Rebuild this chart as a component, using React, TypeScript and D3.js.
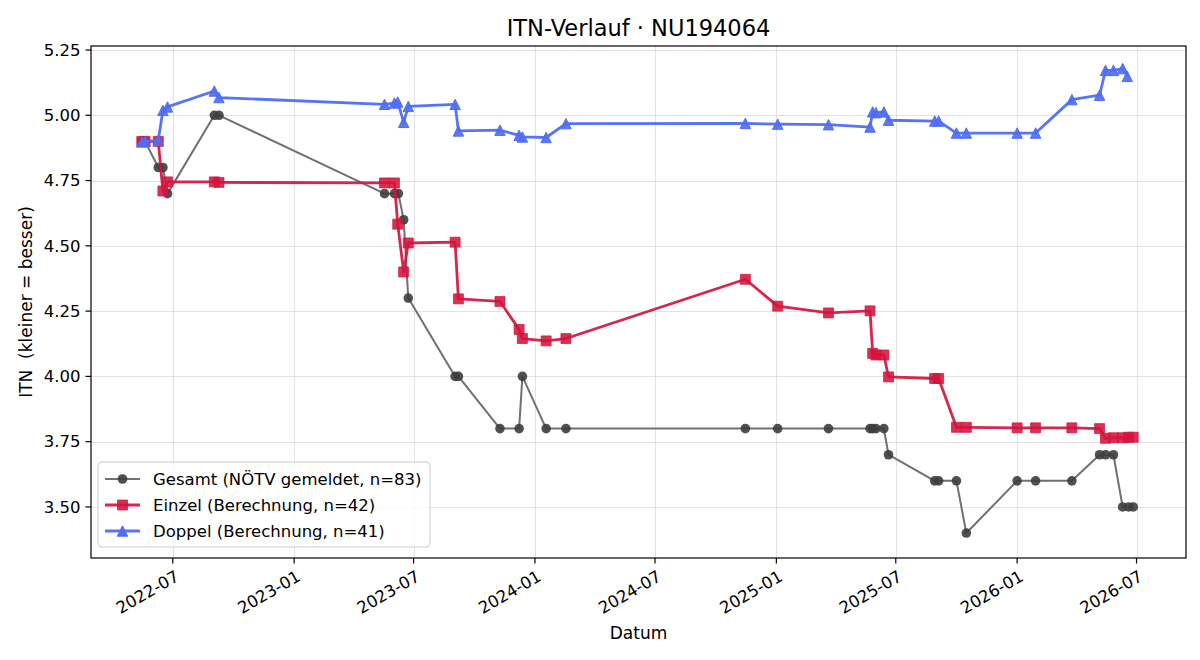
import React from "react";
import * as d3 from "d3";

// ITN history for player NU194064: reported overall value plus computed singles/doubles values
const gesamtDates = [
  "2022-05-15", "2022-05-20", "2022-06-09", "2022-06-16", "2022-06-23", "2022-09-02", "2022-09-09",
  "2023-05-18", "2023-06-02", "2023-06-08", "2023-06-16", "2023-06-23", "2023-09-02", "2023-09-07",
  "2023-11-09", "2023-12-08", "2023-12-13", "2024-01-18", "2024-02-17", "2024-11-15", "2025-01-03",
  "2025-03-21", "2025-05-23", "2025-05-27", "2025-06-01", "2025-06-13", "2025-06-20", "2025-08-29",
  "2025-09-04", "2025-10-01", "2025-10-16", "2026-01-01", "2026-01-29", "2026-03-25", "2026-05-06",
  "2026-05-15", "2026-05-27", "2026-06-10", "2026-06-19", "2026-06-26",
];
const gesamtValues = [
  4.9, 4.9, 4.8, 4.8, 4.7, 5.0, 5.0,
  4.7, 4.7, 4.7, 4.6, 4.3, 4.0, 4.0,
  3.8, 3.8, 4.0, 3.8, 3.8, 3.8, 3.8,
  3.8, 3.8, 3.8, 3.8, 3.8, 3.7, 3.6,
  3.6, 3.6, 3.4, 3.6, 3.6, 3.6, 3.7,
  3.7, 3.7, 3.5, 3.5, 3.5,
];

const einzelDates = [
  "2022-05-15", "2022-05-20", "2022-06-09", "2022-06-16", "2022-06-23", "2022-09-02", "2022-09-09",
  "2023-05-18", "2023-06-02", "2023-06-07", "2023-06-16", "2023-06-23", "2023-09-02", "2023-09-07",
  "2023-11-09", "2023-12-08", "2023-12-13", "2024-01-18", "2024-02-17", "2024-11-15", "2025-01-03",
  "2025-03-21", "2025-05-23", "2025-05-27", "2025-06-01", "2025-06-13", "2025-06-20", "2025-08-29",
  "2025-09-04", "2025-10-01", "2025-10-16", "2026-01-01", "2026-01-29", "2026-03-25", "2026-05-06",
  "2026-05-15", "2026-05-27", "2026-06-10", "2026-06-19", "2026-06-26",
];
const einzelValues = [
  4.9, 4.9, 4.9, 4.71, 4.745, 4.745, 4.743,
  4.741, 4.741, 4.583, 4.4, 4.511, 4.514, 4.297,
  4.287, 4.18, 4.145, 4.136, 4.145, 4.372, 4.269,
  4.243, 4.251, 4.088, 4.082, 4.082, 3.998, 3.992,
  3.992, 3.805, 3.805, 3.803, 3.803, 3.803, 3.8,
  3.763, 3.765, 3.765, 3.767, 3.767,
];

const doppelDates = [
  "2022-05-15", "2022-05-20", "2022-06-09", "2022-06-16", "2022-06-23", "2022-09-02", "2022-09-09",
  "2023-05-18", "2023-06-02", "2023-06-07", "2023-06-16", "2023-06-23", "2023-09-02", "2023-09-07",
  "2023-11-09", "2023-12-08", "2023-12-13", "2024-01-18", "2024-02-17", "2024-11-15", "2025-01-03",
  "2025-03-21", "2025-05-23", "2025-05-27", "2025-06-01", "2025-06-13", "2025-06-20", "2025-08-29",
  "2025-09-04", "2025-10-01", "2025-10-16", "2026-01-01", "2026-01-29", "2026-03-25", "2026-05-06",
  "2026-05-15", "2026-05-27", "2026-06-10", "2026-06-17",
];
const doppelValues = [
  4.898, 4.9, 4.904, 5.019, 5.032, 5.093, 5.068,
  5.042, 5.047, 5.051, 4.973, 5.034, 5.042, 4.94,
  4.943, 4.923, 4.917, 4.915, 4.968, 4.969, 4.966,
  4.964, 4.955, 5.013, 5.01, 5.013, 4.981, 4.978,
  4.978, 4.932, 4.932, 4.932, 4.932, 5.06, 5.077,
  5.172, 5.172, 5.179, 5.149,
];

const yTicks = [3.5, 3.75, 4.0, 4.25, 4.5, 4.75, 5.0, 5.25];
const xTickDates = [
  "2022-07-01", "2023-01-01", "2023-07-01", "2024-01-01", "2024-07-01",
  "2025-01-01", "2025-07-01", "2026-01-01", "2026-07-01",
];
const xDomainDates = ["2022-02-27", "2026-09-14"];
const yDomain = [3.3045, 5.2654];

const legendLabels = [
  "Gesamt (NÖTV gemeldet, n=83)",
  "Einzel (Berechnung, n=42)",
  "Doppel (Berechnung, n=41)",
];

const titleText = "ITN-Verlauf · NU194064";
const xLabelText = "Datum";
const yLabelText = "ITN  (kleiner = besser)";

const parse = d3.utcParse("%Y-%m-%d");
const fmt = d3.utcFormat("%Y-%m");

const W = 1200;
const H = 660;
const plot = { left: 91, right: 1186, top: 46, bottom: 558 };
const FONT = "DejaVu Sans, Verdana, sans-serif";

type Pt = { d: Date; v: number };
const toPts = (ds: string[], vs: number[]): Pt[] => ds.map((s, i) => ({ d: parse(s) as Date, v: vs[i] }));

const COLORS = {
  gesamtLine: "#707070",
  gesamtMarker: "#3d3d3d",
  einzel: "#d3143c",
  doppel: "#4e6ef2",
};

const squarePath = (s: number) => `M${-s / 2},${-s / 2}h${s}v${s}h${-s}Z`;
const trianglePath = (r: number) => `M0,${-r}L${r},${r}L${-r},${r}Z`;

export default function App() {
  const x = d3
    .scaleUtc()
    .domain(xDomainDates.map((s) => parse(s) as Date))
    .range([plot.left, plot.right]);
  const y = d3.scaleLinear().domain(yDomain).range([plot.bottom, plot.top]);

  const gesamt = toPts(gesamtDates, gesamtValues);
  const einzel = toPts(einzelDates, einzelValues);
  const doppel = toPts(doppelDates, doppelValues);

  const line = d3
    .line<Pt>()
    .x((p) => x(p.d))
    .y((p) => y(p.v));

  const tickLen = 5.5;
  const tickPad = 5;

  const legendX = 98;
  const legendY = 462;
  const legendRowY = [479, 505, 531];

  return (
    <svg width={W} height={H} style={{ display: "block", position: "absolute", left: 0, top: 0 }} fontFamily={FONT}>
      <rect x={0} y={0} width={W} height={H} fill="#ffffff" />

      {/* grid */}
      <g stroke="#b0b0b0" strokeOpacity={0.35} strokeWidth={1}>
        {xTickDates.map((s) => {
          const xx = Math.round(x(parse(s) as Date)) + 0.5;
          return <line key={s} x1={xx} x2={xx} y1={plot.top} y2={plot.bottom} />;
        })}
        {yTicks.map((t) => {
          const yy = Math.round(y(t)) + 0.5;
          return <line key={t} x1={plot.left} x2={plot.right} y1={yy} y2={yy} />;
        })}
      </g>

      {/* Gesamt */}
      <path d={line(gesamt) || ""} fill="none" stroke={COLORS.gesamtLine} strokeWidth={2} strokeLinejoin="round" />
      <g fill={COLORS.gesamtMarker} fillOpacity={0.9}>
        {gesamt.map((p, i) => (
          <circle key={i} cx={x(p.d)} cy={y(p.v)} r={4.8} />
        ))}
      </g>

      {/* Einzel */}
      <path
        d={line(einzel) || ""}
        fill="none"
        stroke={COLORS.einzel}
        strokeOpacity={0.92}
        strokeWidth={2.8}
        strokeLinejoin="round"
      />
      <g fill={COLORS.einzel} fillOpacity={0.88} stroke={COLORS.einzel} strokeOpacity={0.7} strokeWidth={1}>
        {einzel.map((p, i) => (
          <path key={i} d={squarePath(10)} transform={`translate(${x(p.d)},${y(p.v)})`} />
        ))}
      </g>

      {/* Doppel */}
      <path
        d={line(doppel) || ""}
        fill="none"
        stroke={COLORS.doppel}
        strokeOpacity={0.95}
        strokeWidth={2.8}
        strokeLinejoin="round"
      />
      <g fill={COLORS.doppel} fillOpacity={0.92} stroke={COLORS.doppel} strokeWidth={1}>
        {doppel.map((p, i) => (
          <path key={i} d={trianglePath(5.2)} transform={`translate(${x(p.d)},${y(p.v)})`} />
        ))}
      </g>

      {/* frame */}
      <rect
        x={plot.left}
        y={plot.top}
        width={plot.right - plot.left}
        height={plot.bottom - plot.top}
        fill="none"
        stroke="#000"
        strokeWidth={1.2}
      />

      {/* y axis ticks */}
      <g fontSize={16.5} fill="#000">
        {yTicks.map((t) => {
          const yy = y(t);
          return (
            <g key={t}>
              <line x1={plot.left - tickLen} x2={plot.left} y1={yy} y2={yy} stroke="#000" strokeWidth={1.2} />
              <text x={plot.left - tickLen - tickPad} y={yy} dy="0.35em" textAnchor="end">
                {t.toFixed(2)}
              </text>
            </g>
          );
        })}
      </g>

      {/* x axis ticks */}
      <g fontSize={16.5} fill="#000">
        {xTickDates.map((s) => {
          const xx = x(parse(s) as Date);
          const ty = plot.bottom + tickLen + tickPad;
          return (
            <g key={s}>
              <line x1={xx} x2={xx} y1={plot.bottom} y2={plot.bottom + tickLen} stroke="#000" strokeWidth={1.2} />
              <text transform={`translate(${xx + 1},${ty}) rotate(-30)`} dy="0.78em" textAnchor="end">
                {fmt(parse(s) as Date)}
              </text>
            </g>
          );
        })}
      </g>

      {/* titles */}
      <text x={(plot.left + plot.right) / 2} y={36} textAnchor="middle" fontSize={22.5} fill="#000">
        {titleText}
      </text>
      <text x={(plot.left + plot.right) / 2} y={639} textAnchor="middle" fontSize={17} fill="#000">
        {xLabelText}
      </text>
      <text
        transform={`translate(32,${(plot.top + plot.bottom) / 2}) rotate(-90)`}
        textAnchor="middle"
        fontSize={17}
        fill="#000"
        style={{ whiteSpace: "pre" }}
      >
        {yLabelText}
      </text>

      {/* legend */}
      <rect
        x={legendX}
        y={legendY}
        width={332}
        height={85}
        rx={4}
        fill="#ffffff"
        fillOpacity={0.8}
        stroke="#cccccc"
        strokeWidth={1}
      />
      {legendLabels.map((lab, i) => {
        const ly = legendRowY[i];
        const hx0 = 105;
        const hx1 = 140;
        const mx = (hx0 + hx1) / 2;
        return (
          <g key={lab}>
            {i === 0 && (
              <>
                <line x1={hx0} x2={hx1} y1={ly} y2={ly} stroke={COLORS.gesamtLine} strokeWidth={2} />
                <circle cx={mx} cy={ly} r={4.8} fill={COLORS.gesamtMarker} fillOpacity={0.9} />
              </>
            )}
            {i === 1 && (
              <>
                <line x1={hx0} x2={hx1} y1={ly} y2={ly} stroke={COLORS.einzel} strokeOpacity={0.92} strokeWidth={2.8} />
                <path
                  d={squarePath(10)}
                  transform={`translate(${mx},${ly})`}
                  fill={COLORS.einzel}
                  fillOpacity={0.88}
                  stroke={COLORS.einzel}
                  strokeOpacity={0.7}
                />
              </>
            )}
            {i === 2 && (
              <>
                <line x1={hx0} x2={hx1} y1={ly} y2={ly} stroke={COLORS.doppel} strokeOpacity={0.95} strokeWidth={2.8} />
                <path d={trianglePath(5.2)} transform={`translate(${mx},${ly})`} fill={COLORS.doppel} stroke={COLORS.doppel} />
              </>
            )}
            <text x={153} y={ly} dy="0.36em" fontSize={16.5} fill="#000">
              {lab}
            </text>
          </g>
        );
      })}
    </svg>
  );
}
